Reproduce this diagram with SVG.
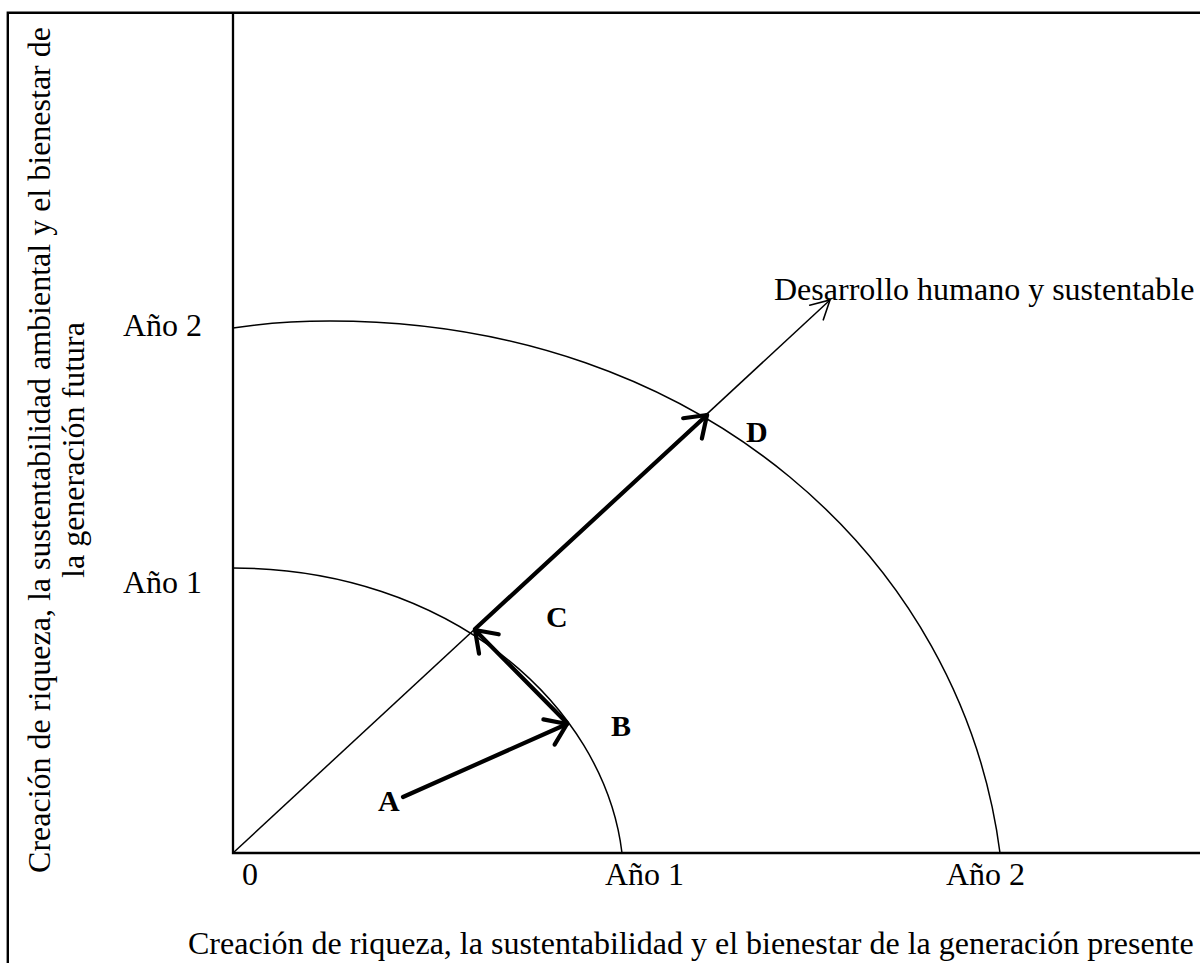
<svg xmlns="http://www.w3.org/2000/svg" width="1200" height="963" viewBox="0 0 1200 963">
<style>
text{font-family:"Liberation Serif","Times New Roman",serif;fill:#000;font-size:32px}
.pt{font-weight:bold;font-size:30px}
.frame{stroke:#000;stroke-width:2.4;fill:none}
.axis{stroke:#000;stroke-width:2.3;fill:none}
.arc{stroke:#000;stroke-width:1.5;fill:none}
.thin{stroke:#000;stroke-width:1.5;fill:none}
.thick{stroke:#000;stroke-width:4.2;fill:none;stroke-linecap:round}
</style>
<defs>
<marker id="openThin" markerUnits="userSpaceOnUse" orient="auto" markerWidth="40" markerHeight="40" refX="0" refY="0" viewBox="-30 -20 40 40" overflow="visible">
<path d="M-18.4,-10 L0,0 L-18.4,10" fill="none" stroke="#000" stroke-width="1.6" stroke-linecap="round"/>
</marker>
<marker id="openThick" markerUnits="userSpaceOnUse" orient="auto" markerWidth="50" markerHeight="50" refX="0" refY="0" viewBox="-30 -25 50 50" overflow="visible">
<path d="M-19.7,-13.8 L0,0 L-19.7,13.8" fill="none" stroke="#000" stroke-width="4.2" stroke-linecap="round" stroke-linejoin="round"/>
</marker>
</defs>
<rect width="1200" height="963" fill="#fff"/>
<g id="frame">
<path class="frame" d="M1200,12.8 H7.8 V963"/>
</g>
<g id="axes">
<path class="axis" d="M233,12 V853 H1200"/>
</g>
<g id="arcs">
<path id="arc-year1" class="arc" d="M233,568 C447,568 604,703 622,853"/>
<path id="arc-year2" class="arc" d="M233,328 C265,323 300,321 330,321 C700,321 962,559 1000,853"/>
</g>
<g id="labels">
<text x="242" y="885">0</text>
<text x="605" y="885">Año 1</text>
<text x="946" y="885">Año 2</text>
<text x="123" y="593">Año 1</text>
<text x="123" y="336">Año 2</text>
<text x="188" y="954">Creación de riqueza, la sustentabilidad y el bienestar de la generación presente</text>
<text transform="translate(50,450) rotate(-90)" text-anchor="middle">Creación de riqueza, la sustentabilidad ambiental y el bienestar de</text>
<text transform="translate(84,450) rotate(-90)" text-anchor="middle">la generación futura</text>
<text x="774" y="300">Desarrollo humano y sustentable</text>
</g>
<g id="node-A"><text class="pt" x="378" y="811">A</text></g>
<g id="node-B"><text class="pt" x="611" y="736">B</text></g>
<g id="node-C"><text class="pt" x="546" y="627">C</text></g>
<g id="node-D"><text class="pt" x="746" y="442">D</text></g>
<g id="connectors">
<line class="thin" x1="233" y1="853" x2="830" y2="300" marker-end="url(#openThin)"/>
<line class="thick" x1="403" y1="797" x2="567" y2="724" marker-end="url(#openThick)"/>
<line class="thick" x1="567" y1="723" x2="475" y2="630" marker-end="url(#openThick)"/>
<line class="thick" x1="475" y1="629" x2="707" y2="415" marker-end="url(#openThick)"/>
</g>
</svg>
